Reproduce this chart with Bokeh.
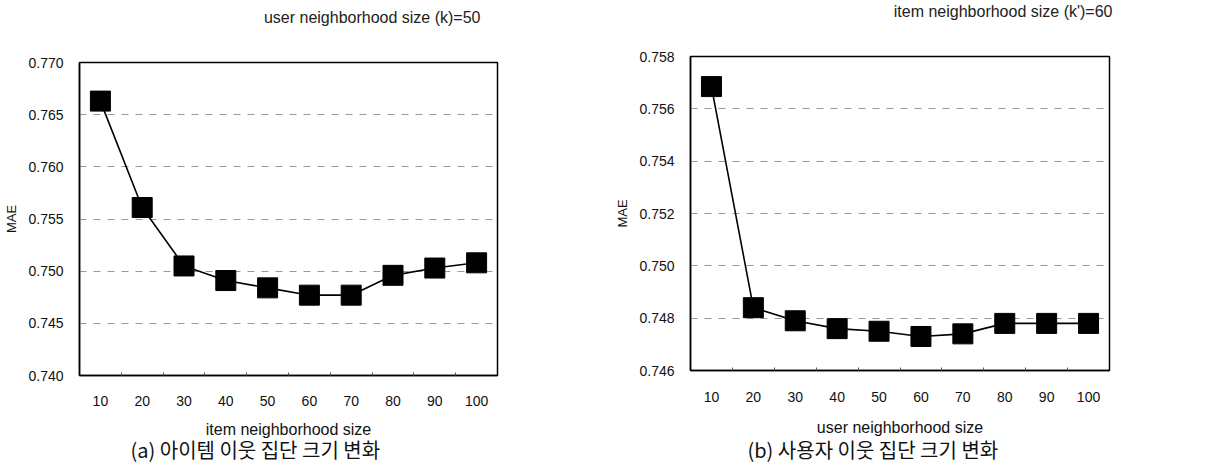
from bokeh.plotting import figure
from bokeh.layouts import row, column
from bokeh.models import FixedTicker, Title, Range1d, PrintfTickFormatter
from bokeh.embed import file_html
from bokeh.resources import INLINE

sizes = [10, 20, 30, 40, 50, 60, 70, 80, 90, 100]
mae_item = [0.7663, 0.7561, 0.7505, 0.7491, 0.7484, 0.7477, 0.7477, 0.7496, 0.7503, 0.7508]
mae_user = [0.75685, 0.7484, 0.7479, 0.7476, 0.7475, 0.7473, 0.7474, 0.7478, 0.7478, 0.7478]

yticks_a = [0.740, 0.745, 0.750, 0.755, 0.760, 0.765, 0.770]
yticks_b = [0.746, 0.748, 0.750, 0.752, 0.754, 0.756, 0.758]

FONT = "Liberation Sans"
KFONT = "Noto Sans CJK KR"


def make(width, bl, br, bt, bb, xs, ys, yticks, xlabel, top_title, caption,
         title_off, spacer, cap_off, cap_so, tick_so, lab_so):
    p = figure(width=width, height=468, output_backend="svg", toolbar_location=None,
               min_border_left=bl, min_border_right=br, min_border_top=bt,
               min_border_bottom=bb)
    p.x_range = Range1d(5, 105)
    p.y_range = Range1d(yticks[0], yticks[-1])
    p.outline_line_color = "black"
    p.outline_line_width = 1.5
    p.xgrid.visible = False
    p.ygrid.grid_line_color = "#999999"
    p.ygrid.grid_line_dash = "7 7"
    p.ygrid.grid_line_width = 1

    p.line(xs, ys, line_color="black", line_width=1.6)
    p.scatter(xs, ys, marker="square", size=20, fill_color="black", line_color="black")

    p.xaxis.ticker = FixedTicker(ticks=xs, minor_ticks=[x + 5 for x in xs[:-1]])
    p.xaxis.major_tick_out = 0
    p.xaxis.major_tick_in = 0
    p.xaxis.minor_tick_in = 3
    p.xaxis.minor_tick_out = 0
    p.xaxis.minor_tick_line_color = "#555555"
    p.xaxis.axis_line_color = "black"
    p.xaxis.axis_line_width = 1.5
    p.xaxis.major_label_standoff = tick_so
    p.xaxis.major_label_text_font = FONT
    p.xaxis.major_label_text_font_size = "14px"
    p.xaxis.major_label_text_color = "#111111"
    p.xaxis.axis_label = xlabel
    p.xaxis.axis_label_text_font = FONT
    p.xaxis.axis_label_text_font_style = "normal"
    p.xaxis.axis_label_text_font_size = "16px"
    p.xaxis.axis_label_text_color = "#111111"
    p.xaxis.axis_label_standoff = lab_so

    p.yaxis.ticker = FixedTicker(ticks=yticks)
    p.yaxis.formatter = PrintfTickFormatter(format="%.3f")
    p.yaxis.major_tick_out = 0
    p.yaxis.major_tick_in = 0
    p.yaxis.minor_tick_line_color = None
    p.yaxis.axis_line_color = "black"
    p.yaxis.axis_line_width = 1.5
    p.yaxis.major_label_standoff = 16
    p.yaxis.major_label_text_font = FONT
    p.yaxis.major_label_text_font_size = "14px"
    p.yaxis.major_label_text_color = "#111111"
    p.yaxis.axis_label = "MAE"
    p.yaxis.axis_label_text_font = FONT
    p.yaxis.axis_label_text_font_style = "normal"
    p.yaxis.axis_label_text_font_size = "13px"
    p.yaxis.axis_label_text_color = "#111111"
    p.yaxis.axis_label_standoff = 6

    # spacer between frame and the parameter title
    p.add_layout(Title(text=" ", text_font_size="1px", standoff=spacer), "above")
    p.add_layout(Title(text=top_title, align="right", text_font=FONT,
                       text_font_size="16px", text_font_style="normal",
                       text_color="#222222", offset=title_off, standoff=0,
                       vertical_align="bottom"), "above")
    p.add_layout(Title(text=caption, align="left", text_font=KFONT,
                       text_font_size="20px", text_font_style="normal",
                       text_color="#111111", offset=cap_off, standoff=cap_so,
                       vertical_align="top"), "below")
    return p


pa = make(600, 79, 103, 62, 93, sizes, mae_item, yticks_a, "item neighborhood size",
          "user neighborhood size (k)=50", "(a) 아이템 이웃 집단 크기 변화",
          17, 34, 51, -12, 20, 12)
pb = make(605, 90, 96, 55, 98, sizes, mae_user, yticks_b, "user neighborhood size",
          "item neighborhood size (k')=60", "(b) 사용자 이웃 집단 크기 변화",
          -3, 34, 57, -8, 21, 14)

layout = row(column(pa), column(pb))
open("out.html", "w").write(file_html(layout, INLINE))
